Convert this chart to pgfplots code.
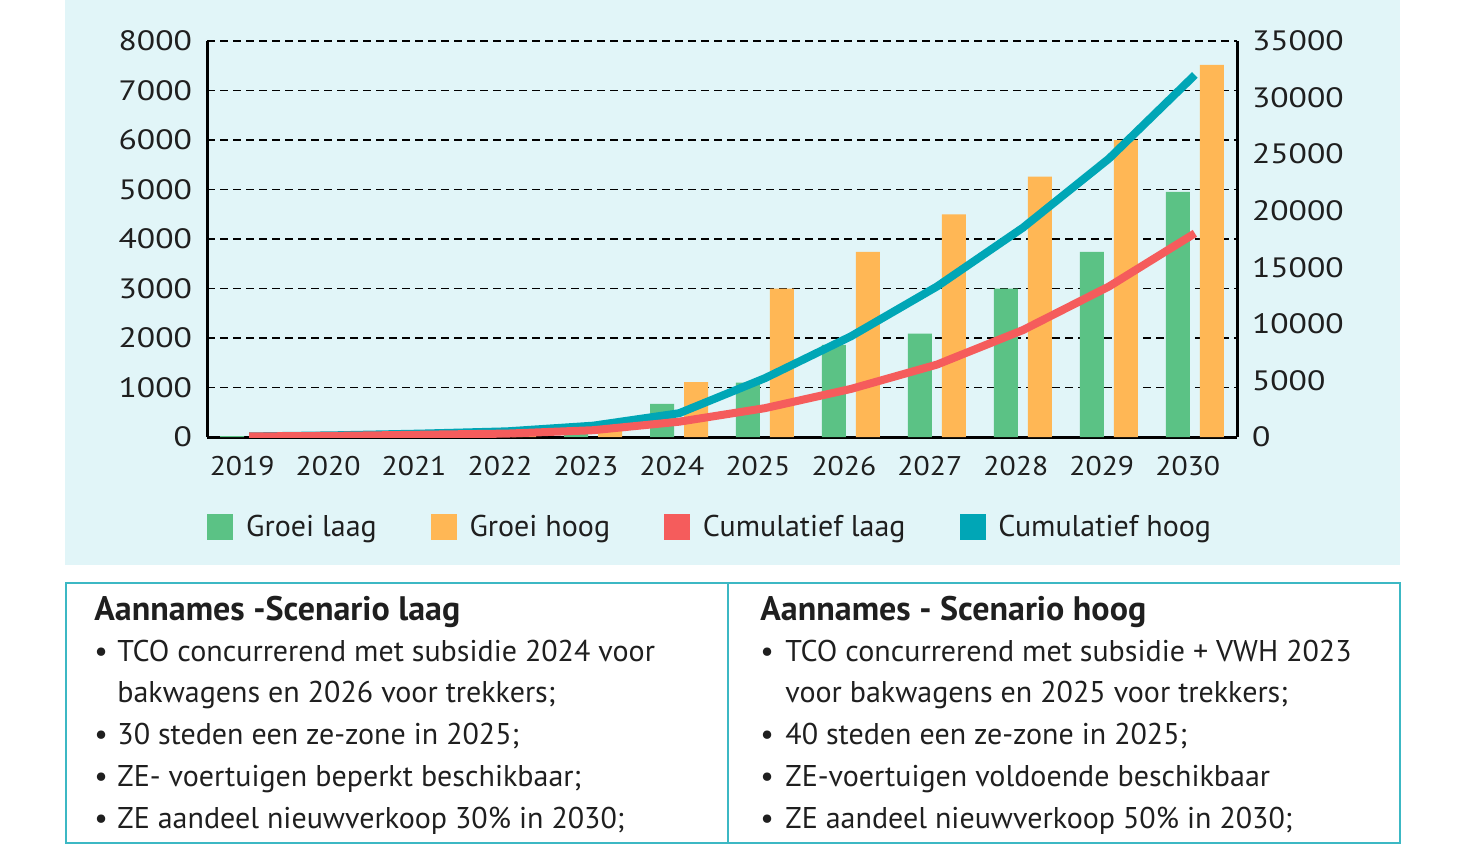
\documentclass[border=0pt]{standalone}
\usepackage{fontspec}
\setmainfont{PT Sans}
\newfontfamily\tickfont{PT Sans}[FakeStretch=1.1]
\newfontfamily\ytickfont{PT Sans}[FakeStretch=1.2]
\usepackage{pgfplots}
\pgfplotsset{compat=1.18}

\definecolor{bgcyan}{RGB}{225,245,248}
\definecolor{boxteal}{RGB}{60,184,196}
\definecolor{groeilaag}{RGB}{91,194,133}
\definecolor{groeihoog}{RGB}{255,183,85}
\definecolor{cumlaag}{RGB}{245,92,92}
\definecolor{cumhoog}{RGB}{0,166,182}

\pgfplotsset{
  basis/.style={
    scale only axis,
    width=515pt, height=198pt,
    at={(103.5pt,-218.5pt)}, anchor=south west,
    xmin=2018.51, xmax=2030.49,
    major tick length=0pt,
    axis line style={line width=1.5pt, black},
    tick label style={font=\fontsize{13.5}{15}\tickfont, text=black!88},
    yticklabel style={font=\fontsize{14}{15}\ytickfont},
    scaled y ticks=false,
    /pgf/number format/1000 sep={},
    /pgf/number format/assume math mode=true,
  }
}

\begin{document}
\begin{tikzpicture}
% canvas
\path[use as bounding box] (0pt,0pt) rectangle (731pt,-425pt);
\fill[bgcyan] (32.5pt,0pt) rectangle (700pt,-282.5pt);

\begin{axis}[basis,
  axis x line*=bottom, axis y line*=left,
  ymin=0, ymax=8000, ytick={0,1000,...,8000},
  xtick={2019,...,2030},
  xticklabel style={yshift=-6pt, xshift=-3.5pt},
  yticklabel style={xshift=-4pt},
  ymajorgrids,
  grid style={black, line width=0.8pt, dash pattern=on 4pt off 2.5pt},
  ybar=5pt, bar width=12pt,
]
\addplot[fill=groeilaag, draw=none] coordinates {
(2019,20) (2020,30) (2021,40) (2022,50) (2023,80) (2024,670)
(2025,1100) (2026,1860) (2027,2090) (2028,3000) (2029,3740) (2030,4950)};
\addplot[fill=groeihoog, draw=none] coordinates {
(2019,30) (2020,40) (2021,60) (2022,80) (2023,150) (2024,1110)
(2025,3000) (2026,3740) (2027,4500) (2028,5260) (2029,6000) (2030,7520)};
\end{axis}

\begin{axis}[basis,
  axis x line=none, axis y line*=right,
  ymin=0, ymax=35000, ytick={0,5000,...,35000},
  yticklabel style={xshift=4pt},
  legend style={at={(0,-0.228)}, anchor=west, draw=none, fill=none,
    inner sep=0pt, legend columns=4,
    font=\fontsize{15}{16}\selectfont, text=black!88,
    nodes={inner sep=0pt},
    /tikz/every odd column/.append style={column sep=6.5pt},
    /tikz/every even column/.append style={column sep=27pt}},
  legend cell align=left,
  legend image code/.code={\fill[#1] (0pt,-6.25pt) rectangle (12.5pt,6.25pt);},
]
\addlegendimage{groeilaag}\addlegendentry{Groei laag}
\addlegendimage{groeihoog}\addlegendentry{Groei hoog}
\addlegendimage{cumlaag}\addlegendentry{Cumulatief laag}
\addlegendimage{cumhoog}\addlegendentry{Cumulatief hoog}
\addplot[cumhoog, line width=4pt, forget plot] coordinates {
(2019,50) (2020,150) (2021,300) (2022,500) (2023,1000) (2024,2100)
(2025,5200) (2026,8900) (2027,13300) (2028,18500) (2029,24600) (2030,32000)};
\addplot[cumlaag, line width=4pt, forget plot] coordinates {
(2019,50) (2020,100) (2021,200) (2022,300) (2023,600) (2024,1350)
(2025,2550) (2026,4250) (2027,6400) (2028,9450) (2029,13300) (2030,18000)};
\end{axis}

% assumptions box
\draw[boxteal, line width=1pt] (33pt,-291.5pt) rectangle (700pt,-421.5pt);
\draw[boxteal, line width=1pt] (364pt,-291.5pt) -- (364pt,-421.5pt);

\begin{scope}[every node/.style={anchor=base west, inner sep=0pt,
    font=\fontsize{15}{16}\selectfont, text=black!88}]
\node[font=\fontsize{17}{18}\bfseries] at (47pt,-310pt) {Aannames -Scenario laag};
\node at (47pt,-330.5pt) {•};
\node at (58.5pt,-330.5pt) {TCO concurrerend met subsidie 2024 voor};
\node at (58.5pt,-351pt) {bakwagens en 2026 voor trekkers;};
\node at (47pt,-372pt) {•};
\node at (58.5pt,-372pt) {30 steden een ze-zone in 2025;};
\node at (47pt,-393pt) {•};
\node at (58.5pt,-393pt) {ZE- voertuigen beperkt beschikbaar;};
\node at (47pt,-414pt) {•};
\node at (58.5pt,-414pt) {ZE aandeel nieuwverkoop 30\% in 2030;};

\node[font=\fontsize{17}{18}\bfseries] at (380pt,-310pt) {Aannames - Scenario hoog};
\node at (380pt,-330.5pt) {•};
\node at (392.5pt,-330.5pt) {TCO concurrerend met subsidie + VWH 2023};
\node at (392.5pt,-351pt) {voor bakwagens en 2025 voor trekkers;};
\node at (380pt,-372pt) {•};
\node at (392.5pt,-372pt) {40 steden een ze-zone in 2025;};
\node at (380pt,-393pt) {•};
\node at (392.5pt,-393pt) {ZE-voertuigen voldoende beschikbaar};
\node at (380pt,-414pt) {•};
\node at (392.5pt,-414pt) {ZE aandeel nieuwverkoop 50\% in 2030;};
\end{scope}
\end{tikzpicture}
\end{document}
